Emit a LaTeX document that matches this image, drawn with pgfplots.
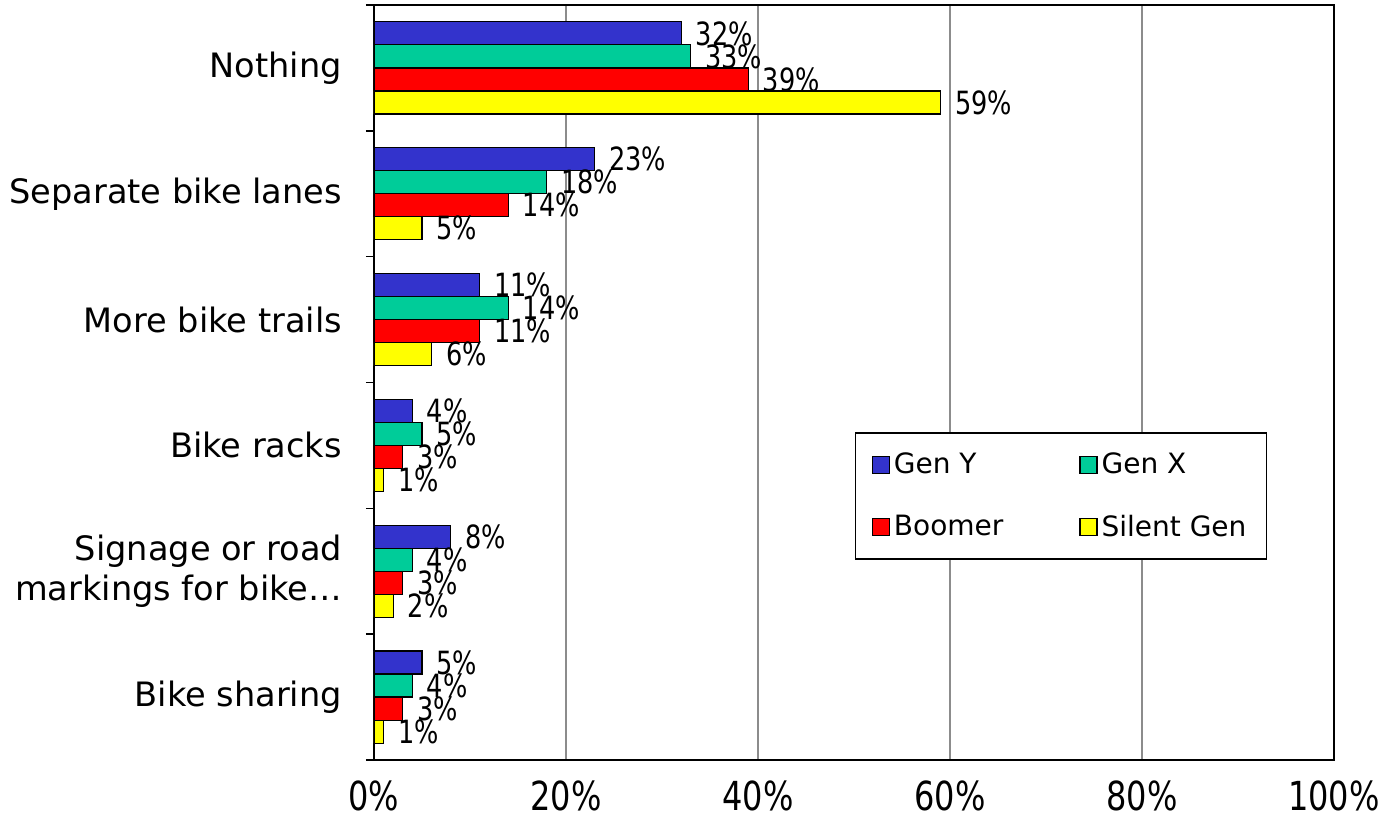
\documentclass[border=0pt]{standalone}
\usepackage{pgfplots}
\pgfplotsset{compat=1.18}
\usepackage{fontspec}
\setmainfont{DejaVu Sans}
\newfontfamily\narrow{DejaVu Sans}[FakeStretch=0.8]

\definecolor{genY}{HTML}{3333CC}
\definecolor{genX}{HTML}{00CC99}
\definecolor{boomer}{HTML}{FF0000}
\definecolor{silent}{HTML}{FFFF00}

% category index (0 = top), value in percent
\pgfplotstableread{
c v
0 32
1 23
2 11
3 4
4 8
5 5
}\tgenY
\pgfplotstableread{
c v
0 33
1 18
2 14
3 5
4 4
5 4
}\tgenX
\pgfplotstableread{
c v
0 39
1 14
2 11
3 3
4 3
5 3
}\tboomer
\pgfplotstableread{
c v
0 59
1 5
2 6
3 1
4 2
5 1
}\tsilent

\pgfplotsset{
  sq/.style={legend image code/.code={\draw[##1,draw=black,line width=0.6pt] (0pt,-4.25pt) rectangle (8.5pt,4.25pt);}},
}

\begin{document}
\begin{tikzpicture}
\begin{axis}[
  width=480pt, height=377.5pt, scale only axis,
  xbar, y dir=reverse,
  xmin=0, xmax=100, ymin=-0.5, ymax=5.5,
  bar width=0.183,
  axis line style={black, line width=1pt},
  xtick={0,20,...,100},
  xticklabels={0\%,20\%,40\%,60\%,80\%,100\%},
  xmajorgrids, major grid style={gray!90, line width=0.6pt},
  major x tick style={draw=none},
  xticklabel style={font=\narrow\fontsize{20}{20}\selectfont, yshift=-7pt},
  ytick={0,...,5},
  yticklabels={Nothing,Separate bike lanes,More bike trails,Bike racks,{Signage or road\\markings for bike…},Bike sharing},
  yticklabel style={font=\fontsize{16.8}{20}\selectfont, align=right, xshift=-12.5pt},
  major tick length=0pt,
  minor ytick={-0.5,0.5,...,5.5},
  minor tick length=4pt,
  tick align=outside,
  ytick pos=left, xtick pos=bottom,
  minor y tick style={black, line width=0.75pt},
  nodes near coords={\pgfmathprintnumber{\pgfplotspointmeta}\%},
  every node near coord/.append style={font=\narrow\fontsize{16}{16}\selectfont, anchor=west, inner sep=1pt, xshift=6pt, black},
  /pgf/number format/assume math mode=true,
  legend columns=2,
  legend style={at={(0.501,0.434)}, anchor=north west, draw=black, line width=0.75pt,
    font=\fontsize{14}{14}\selectfont, inner sep=8pt, row sep=15pt,
    /tikz/every even column/.append style={column sep=36pt}},
  legend cell align=left,
]
\addplot[fill=genY, draw=black, line width=0.6pt, bar shift=-0.2745, sq] table[x=v,y=c] {\tgenY};
\addlegendentry{Gen Y}
\addplot[fill=genX, draw=black, line width=0.6pt, bar shift=-0.0915, sq] table[x=v,y=c] {\tgenX};
\addlegendentry{Gen X}
\addplot[fill=boomer, draw=black, line width=0.6pt, bar shift=0.0915, sq] table[x=v,y=c] {\tboomer};
\addlegendentry{Boomer}
\addplot[fill=silent, draw=black, line width=0.6pt, bar shift=0.2745, sq] table[x=v,y=c] {\tsilent};
\addlegendentry{Silent Gen}
\coordinate (bl) at (axis description cs:0,0);
\coordinate (tr) at (axis description cs:1,1);
\end{axis}
\pgfresetboundingbox
\path[use as bounding box] ([shift={(-187pt,-36.5pt)}]bl) rectangle ([shift={(26.5pt,2.5pt)}]tr);
\end{tikzpicture}
\end{document}
